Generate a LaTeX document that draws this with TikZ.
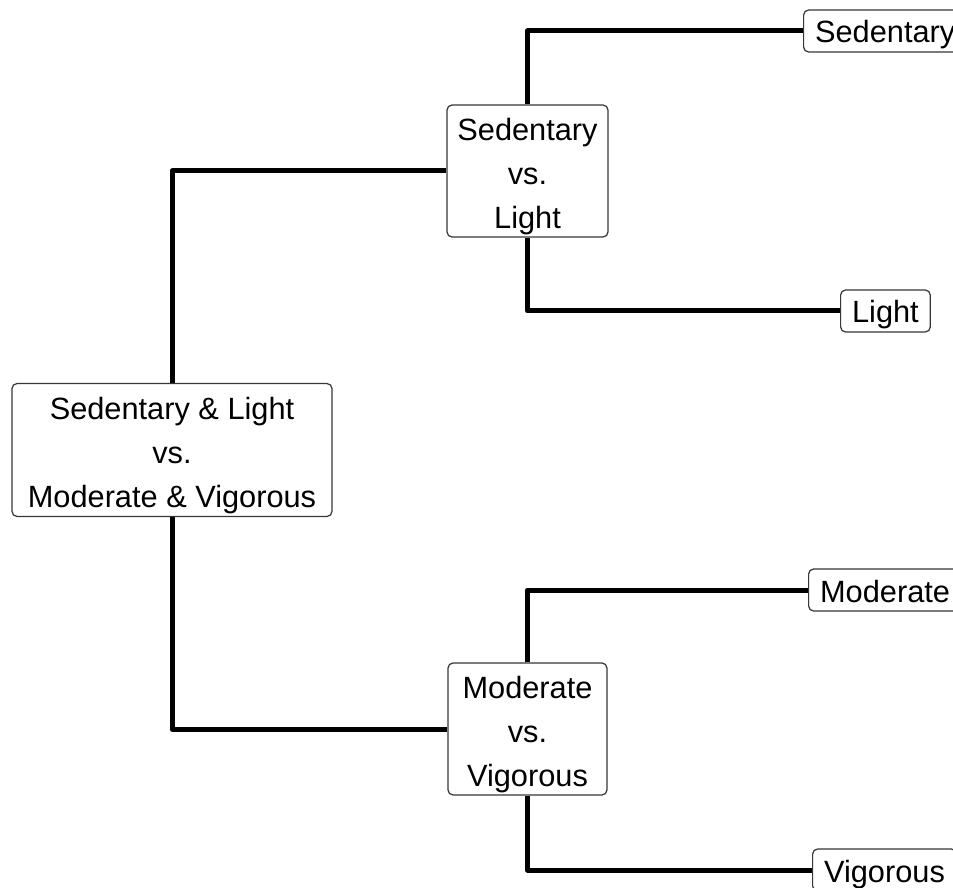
\documentclass[tikz,border=0pt]{standalone}
\usepackage{fontspec}
\setmainfont{Liberation Sans}
\usetikzlibrary{backgrounds}
\definecolor{BoxEdge}{RGB}{55,55,55}
\newcommand{\topstrut}{\rule{0pt}{0.66cm}}
\tikzset{
  test/.style={draw=BoxEdge,fill=white,line width=0.7pt,rounded corners=1mm,
    align=center,inner sep=0pt,font=\fontsize{17.5}{25.2}\selectfont},
  leaf/.style={draw=BoxEdge,fill=white,line width=0.7pt,rounded corners=1mm,
    anchor=west,minimum height=0.84cm,inner xsep=0.23cm,inner ysep=0pt,
    text height=0.48cm,text depth=0pt,font=\fontsize{17.5}{21}\selectfont},
  branch/.style={line width=0.1cm,line join=round}
}

\begin{document}
\begin{tikzpicture}[x=0.02cm,y=-0.02cm]
  \useasboundingbox (0,0) rectangle (953,888);
  \clip (0,0) rectangle (953,888);

  % splits
  \node[test,minimum width=6.4cm,minimum height=2.66cm] (root) at (172,450)
    {\topstrut Sedentary \& Light\\vs.\\Moderate \& Vigorous};
  \node[test,minimum width=3.22cm,minimum height=2.64cm] (sedlight) at (527.5,171)
    {\topstrut Sedentary\\vs.\\Light};
  \node[test,minimum width=3.18cm,minimum height=2.64cm] (modvig) at (527.5,729)
    {\topstrut Moderate\\vs.\\Vigorous};

  % leaves
  \node[leaf] (sedentary) at (803,31) {Sedentary};
  \node[leaf] (light) at (840,311) {Light};
  \node[leaf] (moderate) at (808,590) {Moderate};
  \node[leaf] (vigorous) at (812,870) {Vigorous};

  % branches
  \begin{scope}[on background layer]
    \draw[branch] (root.north) |- (sedlight.west);
    \draw[branch] (root.south) |- (modvig.west);
    \draw[branch] (sedlight.north) |- (sedentary.west);
    \draw[branch] (sedlight.south) |- (light.west);
    \draw[branch] (modvig.north) |- (moderate.west);
    \draw[branch] (modvig.south) |- (vigorous.west);
  \end{scope}
\end{tikzpicture}
\end{document}
